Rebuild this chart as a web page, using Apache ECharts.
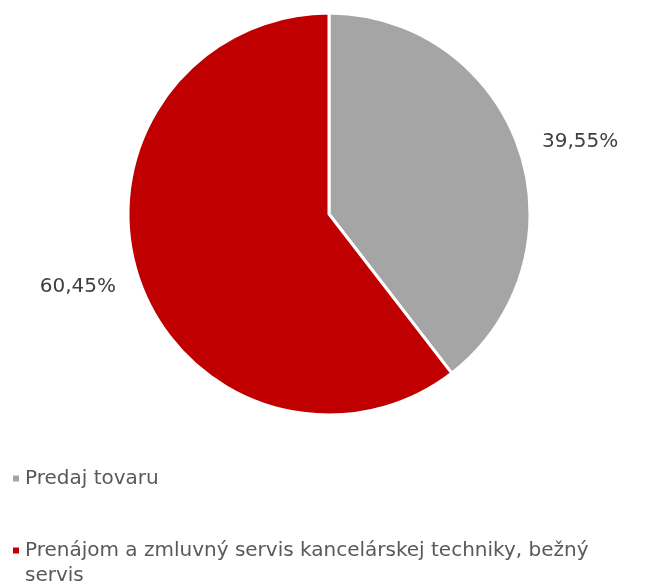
<!DOCTYPE html>
<html>
<head>
<meta charset="utf-8">
<script src="https://cdn.jsdelivr.net/npm/echarts@6/dist/echarts.min.js"></script>
<style>html,body{margin:0;padding:0;background:#fff;}#c{width:668px;height:588px;}</style>
</head>
<body>
<div id="c"></div>
<script>
var categories = ['Predaj tovaru', 'Prenájom a zmluvný servis kancelárskej techniky, bežný servis'];
var values = [39.55, 60.45];
var colors = ['#A5A5A5', '#C00000'];

var chart = echarts.init(document.getElementById('c'), null, {renderer: 'canvas'});
var FONT = 'DejaVu Sans';
var legendTops = [461, 508];
chart.setOption({
  animation: false,
  color: colors,
  legend: categories.map(function (n, i) {
    return {
      orient: 'vertical',
      left: 6,
      top: legendTops[i],
      itemWidth: 8,
      itemHeight: 8,
      icon: 'rect',
      data: [n],
      formatter: function (name) { return i === 1 ? ' \n' + name : name; },
      textStyle: {
        fontFamily: FONT,
        fontSize: 20,
        color: '#595959',
        lineHeight: 25,
        width: 620,
        overflow: 'break'
      }
    };
  }),
  series: [{
    type: 'pie',
    center: [329, 214],
    radius: [0, 201],
    startAngle: 90,
    clockwise: true,
    data: categories.map(function (n, i) { return {name: n, value: values[i]}; }),
    itemStyle: {borderColor: '#fff', borderWidth: 3},
    label: {
      show: true,
      position: 'outside',
      distanceToLabelLine: 0,
      formatter: function (p) { return p.value.toFixed(2).replace('.', ',') + '%'; },
      fontFamily: FONT,
      fontSize: 20,
      color: '#404040'
    },
    labelLine: {show: false, length: 24, length2: 0}
  }]
});
</script>
</body>
</html>
